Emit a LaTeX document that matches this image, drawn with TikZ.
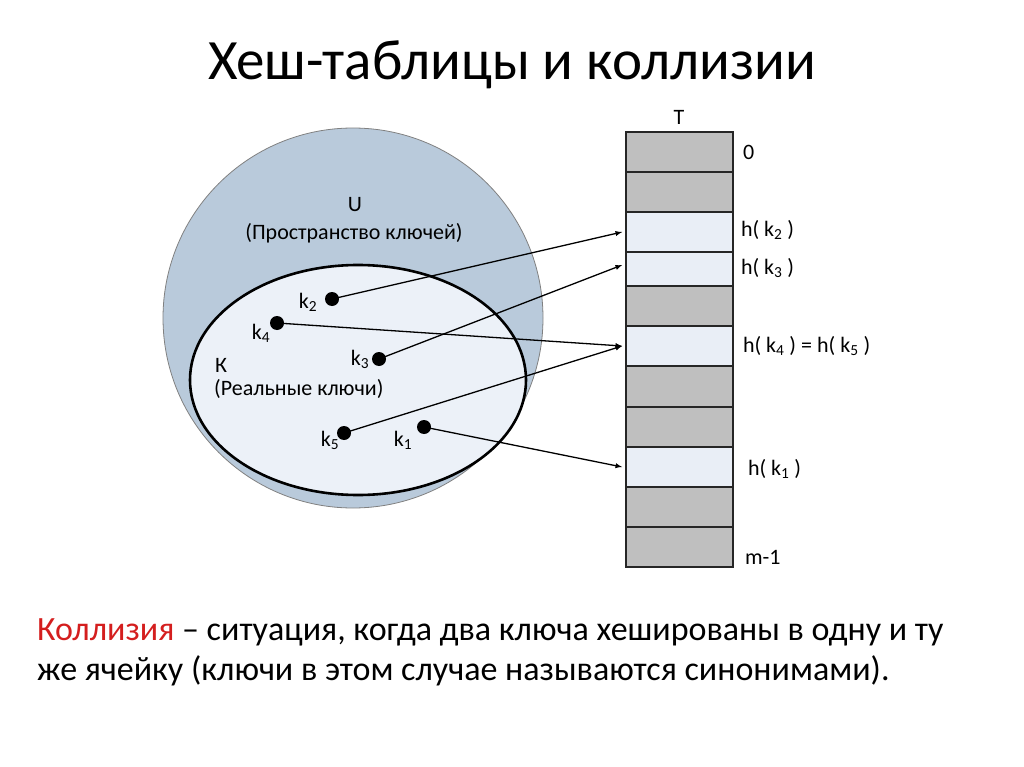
\documentclass[tikz,border=0pt]{standalone}
\usepackage{fontspec}
\setmainfont{Carlito}
\definecolor{uspace}{RGB}{185,202,219}
\definecolor{kspace}{RGB}{236,241,248}
\definecolor{usedcell}{RGB}{233,238,246}
\definecolor{freecell}{RGB}{191,191,191}
\definecolor{collred}{RGB}{212,30,30}
\tikzset{
  dot/.style={circle, fill=black, inner sep=0pt, minimum size=14pt},
  cell/.style={draw=black!85, line width=1.6pt, minimum width=107pt, inner sep=0pt},
  lbl/.style={font=\fontsize{22}{26}\selectfont, inner sep=0pt},
  celllbl/.style={lbl, anchor=west},
}
\begin{document}
\begin{tikzpicture}[x=1pt, y=-1pt, > = latex]
            \useasboundingbox (0,0) rectangle (1024,767);

            \node[font=\fontsize{57}{62}\selectfont, anchor=base] (title) at (512,80) {Хеш-таблицы и коллизии};

            \draw[fill=uspace, draw=black!50, line width=0.8pt] (353,318) circle (190pt);
            \draw[fill=kspace, line width=2.6pt] (358,380) ellipse (168pt and 115pt);

            \node[lbl] (U) at (355,205) {U};
            \node[lbl] (Ulbl) at (354,233) {(Пространство ключей)};
            \node[lbl, anchor=west] (K) at (215,365) {К};
            \node[lbl, anchor=west] (Klbl) at (214,389) {(Реальные ключи)};

            \node[dot] (k2) at (332,299) {};
            \node[dot] (k4) at (277,323) {};
            \node[dot] (k3) at (379,359) {};
            \node[dot] (k5) at (344,433) {};
            \node[dot] (k1) at (424,427) {};
            \node[lbl] (k2lbl) at (308,302) {k\textsubscript{2}};
            \node[lbl] (k4lbl) at (261,333) {k\textsubscript{4}};
            \node[lbl] (k3lbl) at (360,359) {k\textsubscript{3}};
            \node[lbl] (k5lbl) at (330,440) {k\textsubscript{5}};
            \node[lbl] (k1lbl) at (403,440) {k\textsubscript{1}};

            \foreach \name/\top/\bot/\col in {c0/132/172/freecell, c1/172/212/freecell, c2/212/252/usedcell,
                c3/252/286/usedcell, c4/286/326/freecell, c5/326/366/usedcell, c6/366/407/freecell,
                c7/407/447/freecell, c8/447/487/usedcell, c9/487/527/freecell, c10/527/567/freecell}
              \node[cell, fill=\col, minimum height={(\bot-\top)*1pt}] (\name) at (679.5,{(\top+\bot)/2}) {};

            \node[lbl] (T) at (679,117) {T};
            \node[celllbl] (l0) at ([xshift=9pt]c0.east) {0};
            \node[celllbl] (l2) at ([xshift=7pt,yshift=2pt]c2.east) {h( k\textsubscript{2} )};
            \node[celllbl] (l3) at ([xshift=7pt,yshift=1pt]c3.east) {h( k\textsubscript{3} )};
            \node[celllbl] (l5) at ([xshift=9pt]c5.east) {h( k\textsubscript{4} ) = h( k\textsubscript{5} )};
            \node[celllbl] (l8) at ([xshift=14pt,yshift=-2pt]c8.east) {h( k\textsubscript{1} )};
            \node[celllbl] (l10) at ([xshift=11pt,yshift=-10pt]c10.east) {m-1};

            \draw[->, line width=1.3pt] (k2.center) -- ([xshift=-3pt]c2.west);
            \draw[->, line width=1.3pt] (k3.center) -- ([xshift=-3pt,yshift=4pt]c3.west);
            \draw[->, line width=1.3pt] (k4.center) -- ([xshift=-3pt]c5.west);
            \draw[->, line width=1.3pt] (k5.center) -- ([xshift=-3pt]c5.west);
            \draw[->, line width=1.3pt] (k1.center) -- ([xshift=-3pt]c8.west);

            \node[font=\fontsize{34}{40}\selectfont, anchor=base west, inner sep=0pt] (def1) at (37,640)
              {\textcolor{collred}{Коллизия} – ситуация, когда два ключа хешированы в одну и ту};
            \node[font=\fontsize{34}{40}\selectfont, anchor=base west, inner sep=0pt] (def2) at (37,680)
              {же ячейку (ключи в этом случае называются синонимами).};
        \end{tikzpicture}
\end{document}
